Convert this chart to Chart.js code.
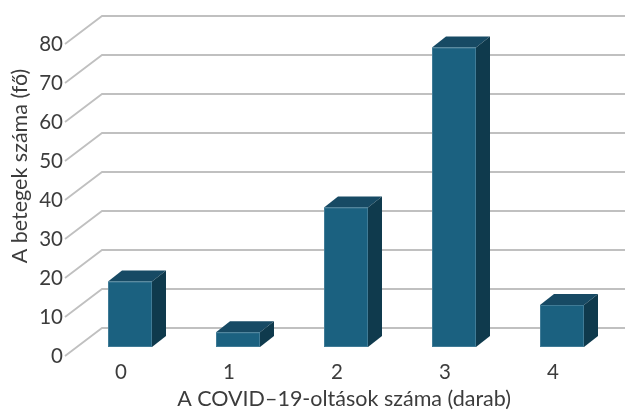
<!DOCTYPE html>
<html>
<head>
<meta charset="utf-8">
<script src="https://cdn.jsdelivr.net/npm/chart.js@4.4.1/dist/chart.umd.min.js"></script>
<style>
  html, body { margin: 0; padding: 0; background: #fff; }
  #wrap { width: 631px; height: 412px; }
</style>
</head>
<body>
<div id="wrap"><canvas id="chart"></canvas></div>
<script>
//data
const categories = ["0", "1", "2", "3", "4"];
const patients = [16, 3, 35, 76, 10];
const yTicks = [0, 10, 20, 30, 40, 50, 60, 70, 80];
const xTitle = "A COVID\u201319-oltások száma (darab)";
const yTitle = "A betegek száma (fő)";

//3d look
const wallDx = 35, wallDy = 28;   // front plane -> back wall
const barDx = 14, barDy = 11;     // depth of a bar
const barShift = 9;               // bar front face vs category centre
const font = "Lato";
const textColor = "#3c3c3c";
const gridColor = "#c0c0c0";

const fake3d = {
    id: "fake3d",
    beforeDatasetsDraw(chart){
        const c = chart.ctx, y = chart.scales.y, area = chart.chartArea;
        c.save();
        c.strokeStyle = gridColor;
        c.lineWidth = 1.8;
        yTicks.forEach(v => {
            const py = y.getPixelForValue(v);
            c.beginPath();
            c.moveTo(area.left - 2, py);
            c.lineTo(area.left + wallDx, py - wallDy);
            c.lineTo(625, py - wallDy);
            c.stroke();
        });
        c.restore();
    },
    afterDatasetsDraw(chart){
        const c = chart.ctx;
        const meta = chart.getDatasetMeta(0);
        c.save();
        meta.data.forEach(bar => {
            const x0 = bar.x - bar.width / 2 + barShift;
            const x1 = bar.x + bar.width / 2 + barShift;
            const yt = bar.y - 12;
            const yb = bar.base - 9;
            //top
            c.fillStyle = "#174a64";
            c.beginPath();
            c.moveTo(x0, yt); c.lineTo(x0 + barDx, yt - barDy);
            c.lineTo(x1 + barDx, yt - barDy); c.lineTo(x1, yt);
            c.closePath(); c.fill();
            //side
            c.fillStyle = "#0f3a4d";
            c.beginPath();
            c.moveTo(x1, yt); c.lineTo(x1 + barDx, yt - barDy);
            c.lineTo(x1 + barDx, yb - barDy); c.lineTo(x1, yb);
            c.closePath(); c.fill();
            //front
            c.fillStyle = "#1b6180";
            c.fillRect(x0, yt, x1 - x0, yb - yt);
            c.strokeStyle = "rgba(90,140,165,0.6)";
            c.lineWidth = 1;
            c.strokeRect(x0 + 0.5, yt + 0.5, x1 - x0 - 1, yb - yt - 1);
        });
        //axis titles
        c.fillStyle = textColor;
        c.font = "21.5px " + font;
        c.textAlign = "center";
        c.textBaseline = "middle";
        c.fillText(xTitle, 344, 399);
        c.translate(20, 166);
        c.rotate(-Math.PI / 2);
        c.fillText(yTitle, 0, 0);
        c.restore();
    }
};

new Chart(document.getElementById("chart"), {
    type: "bar",
    data: {
        labels: categories,
        datasets: [{
            data: patients,
            backgroundColor: "rgba(0,0,0,0)",
            borderWidth: 0,
            categoryPercentage: 1,
            barPercentage: 44 / 108
        }]
    },
    options: {
        responsive: true,
        maintainAspectRatio: false,
        animation: false,
        layout: { padding: { top: 44, right: 24, left: 0, bottom: 0 } },
        plugins: { legend: { display: false }, tooltip: { enabled: false } },
        scales: {
            x: {
                grid: { display: false, drawTicks: false },
                border: { display: false },
                ticks: { color: textColor, font: { family: font, size: 20.5 }, padding: 4 },
                afterFit(scale){ scale.height = 56; }
            },
            y: {
                min: 0, max: 80,
                grid: { display: false, drawTicks: false },
                border: { display: false },
                ticks: { stepSize: 10, color: textColor, font: { family: font, size: 20.5 }, padding: 4 },
                afterFit(scale){ scale.width = 67; }
            }
        }
    },
    plugins: [fake3d]
});
</script>
</body>
</html>
